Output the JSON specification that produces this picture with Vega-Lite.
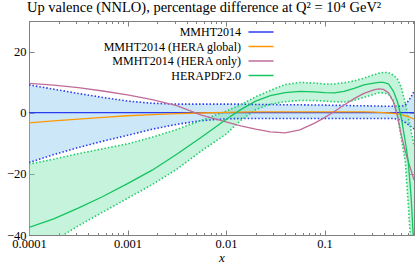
{
  "$schema": "https://vega.github.io/schema/vega-lite/v6.json",
  "width": 385,
  "height": 214,
  "autosize": {"type": "none"},
  "padding": {"left": 29, "top": 21, "right": 1, "bottom": 27},
  "background": "white",
  "config": {
    "font": "Liberation Serif",
    "view": {"stroke": "#808080", "strokeWidth": 1},
    "axis": {"labelFont": "Liberation Serif", "labelFontSize": 12.5, "labelColor": "#000000", "titleFont": "Liberation Serif", "titleFontSize": 13, "titleFontWeight": "normal", "titleColor": "#000000", "domainColor": "#808080", "tickColor": "#808080", "grid": false}
  },
  "title": {"text": "Up valence (NNLO), percentage difference at Q² = 10⁴ GeV²", "anchor": "start", "frame": "group", "dx": -2, "offset": 5, "fontSize": 14.5, "fontWeight": "normal", "font": "Liberation Serif", "color": "#000000"},
  "datasets": {
    "bands": [
      {"b":"MMHT","x":0.0001,"lo":-16.3,"hi":9.1},
      {"b":"MMHT","x":0.000178,"lo":-13.7,"hi":7.7},
      {"b":"MMHT","x":0.000316,"lo":-11.4,"hi":6.3},
      {"b":"MMHT","x":0.000562,"lo":-9.3,"hi":5.0},
      {"b":"MMHT","x":0.001,"lo":-7.4,"hi":3.8},
      {"b":"MMHT","x":0.00178,"lo":-5.4,"hi":3.1},
      {"b":"MMHT","x":0.00316,"lo":-3.8,"hi":2.8},
      {"b":"MMHT","x":0.00562,"lo":-2.6,"hi":2.8},
      {"b":"MMHT","x":0.01,"lo":-2.0,"hi":2.8},
      {"b":"MMHT","x":0.0141,"lo":-1.9,"hi":2.8},
      {"b":"MMHT","x":0.02,"lo":-1.9,"hi":2.7},
      {"b":"MMHT","x":0.0282,"lo":-1.9,"hi":2.7},
      {"b":"MMHT","x":0.0398,"lo":-1.9,"hi":2.6},
      {"b":"MMHT","x":0.0562,"lo":-1.9,"hi":2.6},
      {"b":"MMHT","x":0.0794,"lo":-1.9,"hi":2.5},
      {"b":"MMHT","x":0.1,"lo":-1.9,"hi":2.5},
      {"b":"MMHT","x":0.126,"lo":-1.9,"hi":2.4},
      {"b":"MMHT","x":0.158,"lo":-1.9,"hi":2.4},
      {"b":"MMHT","x":0.2,"lo":-1.9,"hi":2.3},
      {"b":"MMHT","x":0.251,"lo":-1.9,"hi":2.3},
      {"b":"MMHT","x":0.316,"lo":-1.9,"hi":2.2},
      {"b":"MMHT","x":0.355,"lo":-1.9,"hi":2.2},
      {"b":"MMHT","x":0.398,"lo":-1.9,"hi":2.1},
      {"b":"MMHT","x":0.447,"lo":-1.9,"hi":2.1},
      {"b":"MMHT","x":0.501,"lo":-1.9,"hi":2.1},
      {"b":"MMHT","x":0.55,"lo":-2.1,"hi":2.1},
      {"b":"MMHT","x":0.603,"lo":-2.5,"hi":2.1},
      {"b":"MMHT","x":0.661,"lo":-3.2,"hi":2.5},
      {"b":"MMHT","x":0.708,"lo":-3.9,"hi":3.8},
      {"b":"MMHT","x":0.759,"lo":-4.6,"hi":5.2},
      {"b":"MMHT","x":0.81,"lo":-5.3,"hi":7.0},
      {"b":"HERA","x":0.0001,"lo":-47,"hi":-16.8},
      {"b":"HERA","x":0.000178,"lo":-42,"hi":-15.2},
      {"b":"HERA","x":0.000316,"lo":-37,"hi":-13.4},
      {"b":"HERA","x":0.000562,"lo":-32.5,"hi":-11.8},
      {"b":"HERA","x":0.001,"lo":-28,"hi":-10.2},
      {"b":"HERA","x":0.00178,"lo":-23.5,"hi":-8.0},
      {"b":"HERA","x":0.00316,"lo":-18.5,"hi":-5.5},
      {"b":"HERA","x":0.00562,"lo":-12.5,"hi":-2.5},
      {"b":"HERA","x":0.01,"lo":-7,"hi":0.5},
      {"b":"HERA","x":0.0141,"lo":-2.5,"hi":2.6},
      {"b":"HERA","x":0.02,"lo":1.0,"hi":5.2},
      {"b":"HERA","x":0.0282,"lo":2.8,"hi":7.3},
      {"b":"HERA","x":0.0398,"lo":3.6,"hi":9.2},
      {"b":"HERA","x":0.0562,"lo":4.0,"hi":9.9},
      {"b":"HERA","x":0.0794,"lo":4.0,"hi":9.7},
      {"b":"HERA","x":0.1,"lo":3.8,"hi":9.4},
      {"b":"HERA","x":0.126,"lo":3.6,"hi":9.4},
      {"b":"HERA","x":0.158,"lo":3.5,"hi":9.8},
      {"b":"HERA","x":0.2,"lo":4.0,"hi":10.4},
      {"b":"HERA","x":0.251,"lo":5.0,"hi":11.3},
      {"b":"HERA","x":0.316,"lo":6.0,"hi":12.4},
      {"b":"HERA","x":0.355,"lo":6.5,"hi":12.9},
      {"b":"HERA","x":0.398,"lo":6.5,"hi":13.2},
      {"b":"HERA","x":0.447,"lo":6.0,"hi":13.1},
      {"b":"HERA","x":0.501,"lo":4.0,"hi":12.3},
      {"b":"HERA","x":0.55,"lo":-1.0,"hi":11.0},
      {"b":"HERA","x":0.603,"lo":-8.5,"hi":8.2},
      {"b":"HERA","x":0.661,"lo":-16,"hi":3.1},
      {"b":"HERA","x":0.708,"lo":-30,"hi":-1.5},
      {"b":"HERA","x":0.759,"lo":-45,"hi":-6.2},
      {"b":"HERA","x":0.81,"lo":-60,"hi":-10.5}
    ],
    "lines": [
      {"s":"MMHT2014","x":0.0001,"v":0},
      {"s":"MMHT2014","x":0.81,"v":0},
      {"s":"MMHT2014 (HERA global)","x":0.0001,"v":-3.3},
      {"s":"MMHT2014 (HERA global)","x":0.000178,"v":-2.7},
      {"s":"MMHT2014 (HERA global)","x":0.000316,"v":-2.1},
      {"s":"MMHT2014 (HERA global)","x":0.000562,"v":-1.5},
      {"s":"MMHT2014 (HERA global)","x":0.001,"v":-1.0},
      {"s":"MMHT2014 (HERA global)","x":0.00178,"v":-0.6},
      {"s":"MMHT2014 (HERA global)","x":0.00316,"v":-0.3},
      {"s":"MMHT2014 (HERA global)","x":0.00562,"v":-0.1},
      {"s":"MMHT2014 (HERA global)","x":0.01,"v":0.1},
      {"s":"MMHT2014 (HERA global)","x":0.0141,"v":0.2},
      {"s":"MMHT2014 (HERA global)","x":0.02,"v":0.25},
      {"s":"MMHT2014 (HERA global)","x":0.0282,"v":0.3},
      {"s":"MMHT2014 (HERA global)","x":0.0398,"v":0.3},
      {"s":"MMHT2014 (HERA global)","x":0.0562,"v":0.3},
      {"s":"MMHT2014 (HERA global)","x":0.0794,"v":0.3},
      {"s":"MMHT2014 (HERA global)","x":0.1,"v":0.3},
      {"s":"MMHT2014 (HERA global)","x":0.126,"v":0.3},
      {"s":"MMHT2014 (HERA global)","x":0.158,"v":0.3},
      {"s":"MMHT2014 (HERA global)","x":0.2,"v":0.3},
      {"s":"MMHT2014 (HERA global)","x":0.251,"v":0.25},
      {"s":"MMHT2014 (HERA global)","x":0.316,"v":0.2},
      {"s":"MMHT2014 (HERA global)","x":0.355,"v":0.1},
      {"s":"MMHT2014 (HERA global)","x":0.398,"v":0.0},
      {"s":"MMHT2014 (HERA global)","x":0.447,"v":-0.1},
      {"s":"MMHT2014 (HERA global)","x":0.501,"v":-0.2},
      {"s":"MMHT2014 (HERA global)","x":0.55,"v":-0.4},
      {"s":"MMHT2014 (HERA global)","x":0.603,"v":-0.6},
      {"s":"MMHT2014 (HERA global)","x":0.661,"v":-1.0},
      {"s":"MMHT2014 (HERA global)","x":0.708,"v":-1.3},
      {"s":"MMHT2014 (HERA global)","x":0.759,"v":-1.7},
      {"s":"MMHT2014 (HERA global)","x":0.81,"v":-2.0},
      {"s":"MMHT2014 (HERA only)","x":0.0001,"v":9.6},
      {"s":"MMHT2014 (HERA only)","x":0.000178,"v":9.0},
      {"s":"MMHT2014 (HERA only)","x":0.000316,"v":8.2},
      {"s":"MMHT2014 (HERA only)","x":0.000562,"v":7.1},
      {"s":"MMHT2014 (HERA only)","x":0.001,"v":5.8},
      {"s":"MMHT2014 (HERA only)","x":0.00178,"v":4.3},
      {"s":"MMHT2014 (HERA only)","x":0.00316,"v":2.3},
      {"s":"MMHT2014 (HERA only)","x":0.00562,"v":-0.8},
      {"s":"MMHT2014 (HERA only)","x":0.01,"v":-3.0},
      {"s":"MMHT2014 (HERA only)","x":0.0141,"v":-4.3},
      {"s":"MMHT2014 (HERA only)","x":0.02,"v":-5.4},
      {"s":"MMHT2014 (HERA only)","x":0.0282,"v":-6.3},
      {"s":"MMHT2014 (HERA only)","x":0.0398,"v":-6.6},
      {"s":"MMHT2014 (HERA only)","x":0.0562,"v":-5.6},
      {"s":"MMHT2014 (HERA only)","x":0.0794,"v":-3.4},
      {"s":"MMHT2014 (HERA only)","x":0.1,"v":-1.6},
      {"s":"MMHT2014 (HERA only)","x":0.126,"v":0.4},
      {"s":"MMHT2014 (HERA only)","x":0.158,"v":2.5},
      {"s":"MMHT2014 (HERA only)","x":0.2,"v":4.6},
      {"s":"MMHT2014 (HERA only)","x":0.251,"v":6.3},
      {"s":"MMHT2014 (HERA only)","x":0.316,"v":7.5},
      {"s":"MMHT2014 (HERA only)","x":0.355,"v":7.8},
      {"s":"MMHT2014 (HERA only)","x":0.398,"v":7.6},
      {"s":"MMHT2014 (HERA only)","x":0.447,"v":6.5},
      {"s":"MMHT2014 (HERA only)","x":0.501,"v":3.5},
      {"s":"MMHT2014 (HERA only)","x":0.55,"v":-1.0},
      {"s":"MMHT2014 (HERA only)","x":0.603,"v":-7.5},
      {"s":"MMHT2014 (HERA only)","x":0.661,"v":-12.6},
      {"s":"MMHT2014 (HERA only)","x":0.708,"v":-16},
      {"s":"MMHT2014 (HERA only)","x":0.759,"v":-19},
      {"s":"MMHT2014 (HERA only)","x":0.81,"v":-22},
      {"s":"HERAPDF2.0","x":0.0001,"v":-37.5},
      {"s":"HERAPDF2.0","x":0.000178,"v":-34.7},
      {"s":"HERAPDF2.0","x":0.000316,"v":-31.2},
      {"s":"HERAPDF2.0","x":0.000562,"v":-27.4},
      {"s":"HERAPDF2.0","x":0.001,"v":-23.2},
      {"s":"HERAPDF2.0","x":0.00178,"v":-18.8},
      {"s":"HERAPDF2.0","x":0.00316,"v":-13.6},
      {"s":"HERAPDF2.0","x":0.00562,"v":-8.0},
      {"s":"HERAPDF2.0","x":0.01,"v":-2.2},
      {"s":"HERAPDF2.0","x":0.0141,"v":1.0},
      {"s":"HERAPDF2.0","x":0.02,"v":3.8},
      {"s":"HERAPDF2.0","x":0.0282,"v":5.6},
      {"s":"HERAPDF2.0","x":0.0398,"v":6.6},
      {"s":"HERAPDF2.0","x":0.0562,"v":7.0},
      {"s":"HERAPDF2.0","x":0.0794,"v":6.8},
      {"s":"HERAPDF2.0","x":0.1,"v":6.6},
      {"s":"HERAPDF2.0","x":0.126,"v":6.5},
      {"s":"HERAPDF2.0","x":0.158,"v":7.0},
      {"s":"HERAPDF2.0","x":0.2,"v":8.0},
      {"s":"HERAPDF2.0","x":0.251,"v":9.1},
      {"s":"HERAPDF2.0","x":0.316,"v":9.7},
      {"s":"HERAPDF2.0","x":0.355,"v":9.9},
      {"s":"HERAPDF2.0","x":0.398,"v":9.9},
      {"s":"HERAPDF2.0","x":0.447,"v":9.4},
      {"s":"HERAPDF2.0","x":0.501,"v":7.0},
      {"s":"HERAPDF2.0","x":0.55,"v":3.6},
      {"s":"HERAPDF2.0","x":0.603,"v":-1.8},
      {"s":"HERAPDF2.0","x":0.661,"v":-9.5},
      {"s":"HERAPDF2.0","x":0.708,"v":-16},
      {"s":"HERAPDF2.0","x":0.759,"v":-28},
      {"s":"HERAPDF2.0","x":0.81,"v":-45}
    ]
  },
  "layer": [
    {
      "data": {"name": "bands"},
      "mark": {"type": "area", "clip": true, "fillOpacity": 0.4},
      "encoding": {
        "x": {"field": "x", "type": "quantitative", "scale": {"type": "log", "domain": [0.0001, 0.81], "nice": false},
          "axis": {"orient": "bottom", "title": "x", "titleFontStyle": "italic", "titlePadding": -0.5,
            "values": [0.0001,0.0002,0.0003,0.0004,0.0005,0.0006,0.0007,0.0008,0.0009,0.001,0.002,0.003,0.004,0.005,0.006,0.007,0.008,0.009,0.01,0.02,0.03,0.04,0.05,0.06,0.07,0.08,0.09,0.1,0.2,0.3,0.4,0.5,0.6,0.7,0.8],
            "labelExpr": "abs(log(datum.value)/LN10 - round(log(datum.value)/LN10)) < 0.001 ? format(datum.value, '~g') : ''",
            "labelOverlap": false, "labelFlush": false,
            "tickSize": {"condition": {"test": "abs(log(datum.value)/LN10 - round(log(datum.value)/LN10)) < 0.001", "value": -5}, "value": -2.5},
            "labelPadding": 7}},
        "y": {"field": "lo", "type": "quantitative", "scale": {"domain": [-40, 30], "nice": false},
          "axis": {"orient": "left", "title": null, "values": [-40, -20, 0, 20], "tickSize": -5, "labelPadding": 8}},
        "y2": {"field": "hi"},
        "fill": {"field": "b", "type": "nominal", "scale": {"domain": ["MMHT", "HERA"], "range": ["#80c3ed", "#71e2a6"]}, "legend": null}
      }
    },
    {
      "data": {"name": "bands"},
      "transform": [{"fold": ["lo", "hi"], "as": ["edge", "val"]}],
      "mark": {"type": "line", "clip": true, "strokeDash": [1.5, 2], "strokeWidth": 1.6},
      "encoding": {
        "x": {"field": "x", "type": "quantitative", "axis": null},
        "y": {"field": "val", "type": "quantitative", "axis": null},
        "detail": {"field": "edge"},
        "stroke": {"field": "b", "type": "nominal", "scale": {"domain": ["MMHT", "HERA"], "range": ["#2a3cf0", "#1fcf6a"]}, "legend": null}
      }
    },
    {
      "data": {"name": "lines"},
      "mark": {"type": "line", "clip": true, "strokeWidth": 1.3},
      "encoding": {
        "x": {"field": "x", "type": "quantitative",
          "axis": {"orient": "top", "title": null, "labels": false,
            "values": [0.0001,0.0002,0.0003,0.0004,0.0005,0.0006,0.0007,0.0008,0.0009,0.001,0.002,0.003,0.004,0.005,0.006,0.007,0.008,0.009,0.01,0.02,0.03,0.04,0.05,0.06,0.07,0.08,0.09,0.1,0.2,0.3,0.4,0.5,0.6,0.7,0.8],
            "tickSize": {"condition": {"test": "abs(log(datum.value)/LN10 - round(log(datum.value)/LN10)) < 0.001", "value": -5}, "value": -2.5}}},
        "y": {"field": "v", "type": "quantitative",
          "axis": {"orient": "right", "title": null, "labels": false, "values": [-40, -20, 0, 20], "tickSize": -5}},
        "color": {"field": "s", "type": "nominal",
          "scale": {"domain": ["MMHT2014", "MMHT2014 (HERA global)", "MMHT2014 (HERA only)", "HERAPDF2.0"], "range": ["#2a3cf0", "#ff9900", "#c06c98", "#13c45f"]},
          "legend": {"title": null, "orient": "none", "legendX": 225, "legendY": 4, "symbolType": "M-2,0H2", "symbolSize": 156, "symbolStrokeWidth": 1.5, "labelAlign": "right", "labelOffset": -27, "labelFont": "Liberation Serif", "labelFontSize": 12, "labelColor": "#000000", "rowPadding": 1.5, "padding": 0, "labelLimit": 300}}
      }
    }
  ],
  "resolve": {"axis": {"x": "independent", "y": "independent"}}
}
